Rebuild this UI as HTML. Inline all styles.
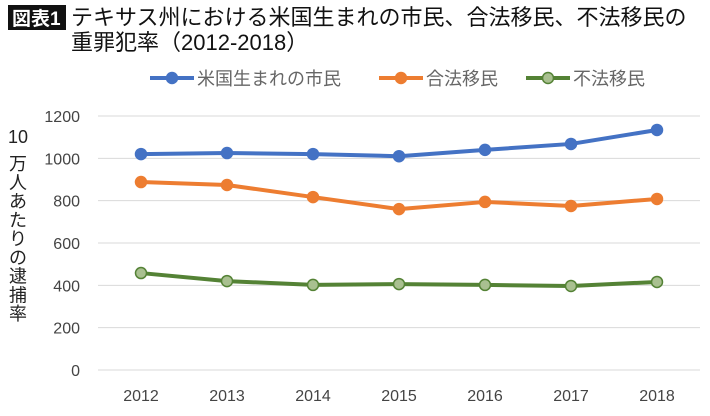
<!DOCTYPE html>
<html><head><meta charset="utf-8"><style>
body{margin:0;width:710px;height:411px;background:#fff;overflow:hidden;font-family:"Liberation Sans","Noto Sans CJK JP",sans-serif;}
svg text{font-family:"Liberation Sans","Noto Sans CJK JP",sans-serif;}
</style></head><body>
<svg id="chart" width="710" height="411">
<rect x="8" y="5" width="58" height="25" fill="#111"/>
<text x="12" y="25" font-size="19" fill="#fff" font-weight="bold">図表1</text>
<text x="71" y="25" font-size="22" fill="#111">テキサス州における米国生まれの市民、合法移民、不法移民の</text>
<text x="71" y="50" font-size="22" fill="#111">重罪犯率（2012-2018）</text>
<g id="legend"></g>
<g id="grid"></g><g id="series"></g>
<g id="ytitle">
<text x="18" y="143" font-size="18" fill="#222" text-anchor="middle">10</text>
</g>
</svg>
<script>
const years=["2012","2013","2014","2015","2016","2017","2018"];
const nativeBorn=[1020,1025,1020,1010,1040,1068,1134];
const legalImm=[888,874,817,760,794,775,808];
const illegalImm=[458,420,402,406,402,397,416];
const yTicks=[0,200,400,600,800,1000,1200];
const seriesNames=["米国生まれの市民","合法移民","不法移民"];
const NS="http://www.w3.org/2000/svg";
const svg=document.getElementById('chart');
function el(t,a,p){const e=document.createElementNS(NS,t);for(const k in a)e.setAttribute(k,a[k]);(p||svg).appendChild(e);return e;}
const xS=i=>141+i*86;
const yS=v=>370-v*(254/1200);
const yt=document.getElementById('ytitle');
const chars=["万","人","あ","た","り","の","逮","捕","率"];
chars.forEach((c,i)=>{const t=el('text',{x:18,y:170+i*18.75,'font-size':18,fill:'#222','text-anchor':'middle'},yt);t.textContent=c;

});
const grid=document.getElementById('grid');
yTicks.forEach(v=>{
 const l=el('line',{x1:98,x2:700,y1:yS(v),y2:yS(v),stroke:'#d9d9d9','stroke-width':1},grid);
 
 
 const t=el('text',{x:80,y:yS(v)+6,'font-size':16,fill:'#444','text-anchor':'end'},grid);t.textContent=v;
 
 
});
years.forEach((y,i)=>{const t=el('text',{x:xS(i),y:401,'font-size':16,fill:'#444','text-anchor':'middle'},grid);t.textContent=y;
 
 });
const colors=["#4472c4","#ed7d31","#548235"];
const fills=["#4472c4","#ed7d31","#a9c090"];
const data=[nativeBorn,legalImm,illegalImm];
const sg=document.getElementById('series');
data.forEach((d,s)=>{
 const p=el('polyline',{points:d.map((v,i)=>xS(i)+','+yS(v)).join(' '),fill:'none',stroke:colors[s],'stroke-width':4,'stroke-linejoin':'round'},sg);
 
 
 d.forEach((v,i)=>{const c=el('circle',{cx:xS(i),cy:yS(v),r:5.5,fill:fills[s],stroke:colors[s],'stroke-width':1.5},sg);
  
  });
});
const lg=document.getElementById('legend');
const lx=[150,379,526];
seriesNames.forEach((n,s)=>{
 el('line',{x1:lx[s],x2:lx[s]+44,y1:78,y2:78,stroke:colors[s],'stroke-width':4},lg);
 const c=el('circle',{cx:lx[s]+22,cy:78,r:5.5,fill:fills[s],stroke:colors[s],'stroke-width':1.5},lg);
 
 
 const t=el('text',{x:lx[s]+47,y:85,'font-size':18,fill:'#666'},lg);t.textContent=n;
 
 
});
</script>
</body></html>
